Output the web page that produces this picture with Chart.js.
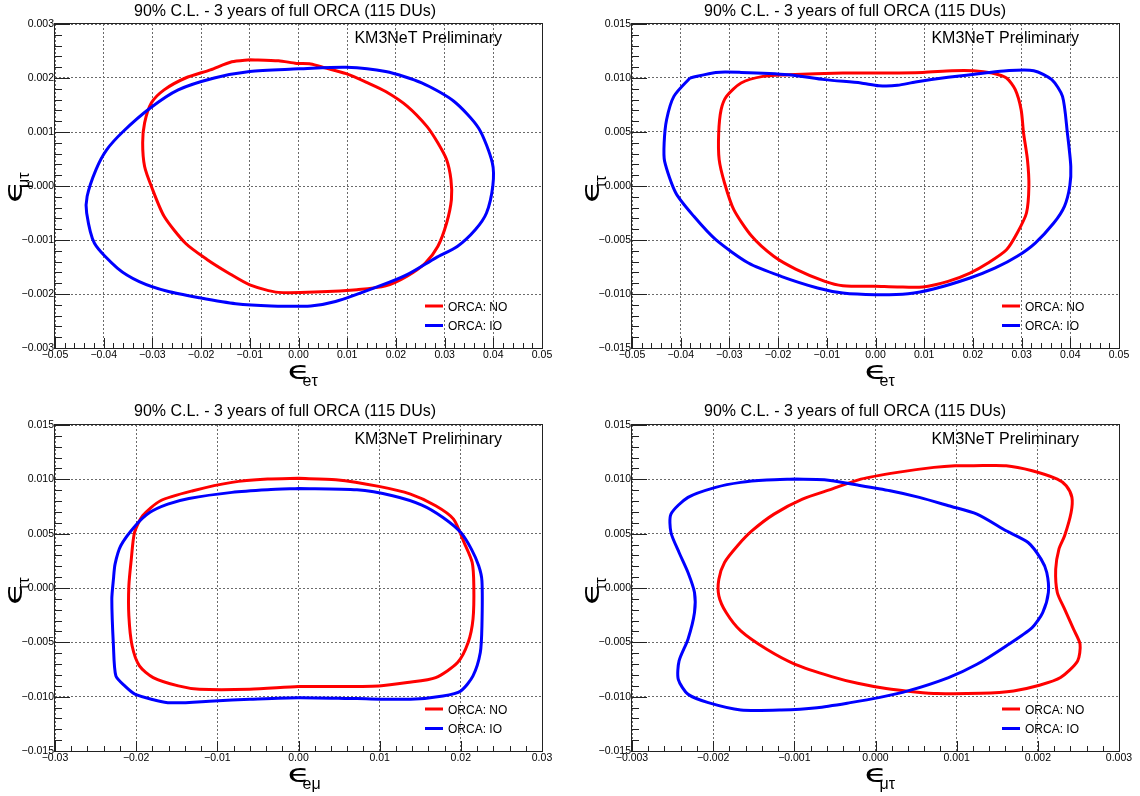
<!DOCTYPE html>
<html>
<head>
<meta charset="utf-8">
<script src="https://cdn.jsdelivr.net/npm/chart.js@4.4.1/dist/chart.umd.min.js"></script>
<style>
  body { margin: 0; background: #fff; }
  #wrap { position: relative; width: 1140px; height: 796px; }
  canvas { position: absolute; }
</style>
</head>
<body>
<div id="wrap">
  <canvas id="c1" width="570" height="400" style="left:0;top:0"></canvas>
  <canvas id="c2" width="570" height="400" style="left:570px;top:0"></canvas>
  <canvas id="c3" width="570" height="396" style="left:0;top:400px"></canvas>
  <canvas id="c4" width="570" height="396" style="left:570px;top:400px"></canvas>
</div>
<script>
const seriesLabels = ['ORCA: NO', 'ORCA: IO'];
const seriesColors = ['#ff0000', '#0000ff'];
const panelTitle = '90% C.L. - 3 years of full ORCA (115 DUs)';
const panelNote = 'KM3NeT Preliminary';

// panel 1: eps_et vs eps_mt
const p1NoX = [-0.0100,-0.0041,-0.0004,0.0025,0.0054,0.0098,0.0142,0.0179,0.0223,0.0264,0.0286,0.0304,0.0313,0.0314,0.0304,0.0286,0.0260,0.0223,0.0179,0.0120,0.0047,-0.0041,-0.0100,-0.0144,-0.0188,-0.0232,-0.0276,-0.0302,-0.0316,-0.0320,-0.0316,-0.0302,-0.0276,-0.0232,-0.0181,-0.0137];
const p1NoY = [0.00234,0.00232,0.00227,0.00226,0.00219,0.00208,0.00191,0.00175,0.00148,0.00110,0.00080,0.00049,0.00012,-0.00025,-0.00069,-0.00112,-0.00143,-0.00167,-0.00185,-0.00192,-0.00196,-0.00197,-0.00183,-0.00161,-0.00136,-0.00106,-0.00056,-0.00001,0.00036,0.00080,0.00117,0.00154,0.00178,0.00200,0.00215,0.00230];
const p1IoX = [0,0.0098,0.0179,0.0253,0.0319,0.0370,0.0398,0.0399,0.0386,0.0363,0.0326,0.0282,0.0223,0.0164,0.0076,0.0025,-0.0056,-0.0129,-0.0203,-0.0269,-0.0327,-0.0372,-0.0419,-0.0435,-0.0434,-0.0416,-0.0394,-0.0360,-0.0305,-0.0247,-0.0173,-0.0100];
const p1IoY = [0.00217,0.00220,0.00212,0.00191,0.00157,0.00107,0.00043,0,-0.00050,-0.00081,-0.00112,-0.00133,-0.00164,-0.00186,-0.00214,-0.00222,-0.00222,-0.00218,-0.00207,-0.00195,-0.00177,-0.00152,-0.00106,-0.00050,-0.00019,0.00030,0.00067,0.00101,0.00144,0.00178,0.00200,0.00212];

// panel 2: eps_et vs eps_tt
const p2NoX = [-0.0179,-0.0067,0,0.0097,0.0157,0.0201,0.0239,0.0269,0.0287,0.0299,0.0304,0.0312,0.0315,0.0310,0.0291,0.0269,0.0231,0.0194,0.0149,0.0097,0.0045,0,-0.0067,-0.0104,-0.0164,-0.0209,-0.0254,-0.0291,-0.0310,-0.0321,-0.0322,-0.0317,-0.0306,-0.0276,-0.0231];
const p2NoY = [0.01031,0.01046,0.01046,0.01052,0.01068,0.01068,0.01046,0.01000,0.00892,0.00707,0.00491,0.00244,0,-0.00250,-0.00435,-0.00590,-0.00713,-0.00806,-0.00883,-0.00935,-0.00935,-0.00929,-0.00923,-0.00883,-0.00769,-0.00651,-0.00466,-0.00219,0.00028,0.00244,0.00491,0.00707,0.00830,0.00954,0.01015];
const p2IoX = [-0.0381,-0.0328,-0.0276,-0.0179,-0.0104,-0.0030,0.0007,0.0045,0.0082,0.0149,0.0224,0.0269,0.0325,0.0362,0.0384,0.0394,0.0401,0.0399,0.0388,0.0366,0.0328,0.0291,0.0246,0.0194,0.0119,0.0067,0,-0.0067,-0.0119,-0.0194,-0.0261,-0.0328,-0.0373,-0.0410,-0.0433,-0.0434,-0.0429,-0.0414];
const p2IoY = [0.01000,0.01052,0.01052,0.01031,0.00985,0.00954,0.00929,0.00932,0.00963,0.01006,0.01046,0.01068,0.01068,0.00985,0.00830,0.00491,0.00182,0,-0.00188,-0.00343,-0.00528,-0.00651,-0.00759,-0.00852,-0.00954,-0.00997,-0.01006,-0.00991,-0.00944,-0.00836,-0.00713,-0.00497,-0.00281,-0.00065,0.00228,0.00398,0.00614,0.00830];

// panel 3: eps_em vs eps_tt
const p3NoX = [0,0.0046,0.0099,0.0138,0.0169,0.0191,0.0204,0.0214,0.0216,0.0215,0.0209,0.0196,0.0169,0.0134,0.0099,0.0028,0,-0.0060,-0.0122,-0.0148,-0.0179,-0.0196,-0.0205,-0.0209,-0.0209,-0.0206,-0.0202,-0.0192,-0.0170,-0.0130,-0.0082,-0.0038];
const p3NoY = [0.01009,0.00996,0.00935,0.00864,0.00757,0.00634,0.00419,0.00235,0.00020,-0.00287,-0.00502,-0.00686,-0.00824,-0.00870,-0.00901,-0.00907,-0.00907,-0.00932,-0.00932,-0.00901,-0.00824,-0.00717,-0.00532,-0.00256,0.00020,0.00266,0.00511,0.00665,0.00803,0.00895,0.00972,0.01002];
const p3IoX = [0,0.0072,0.0116,0.0152,0.0178,0.0200,0.0213,0.0222,0.0226,0.0226,0.0224,0.0215,0.0200,0.0178,0.0138,0.0072,0,-0.0060,-0.0104,-0.0161,-0.0201,-0.0214,-0.0225,-0.0228,-0.0230,-0.0228,-0.0226,-0.0219,-0.0201,-0.0183,-0.0161,-0.0135,-0.0082,-0.0038];
const p3IoY = [0.00916,0.00904,0.00849,0.00763,0.00649,0.00511,0.00358,0.00204,0.00066,-0.00348,-0.00594,-0.00809,-0.00947,-0.00993,-0.01024,-0.01018,-0.01009,-0.01024,-0.01039,-0.01055,-0.00978,-0.00901,-0.00809,-0.00532,-0.00103,0.00081,0.00220,0.00389,0.00573,0.00696,0.00772,0.00824,0.00880,0.00904];

// panel 4: eps_mt vs eps_tt
const p4NoX = [0.00121,0.00161,0.00193,0.00224,0.00235,0.00242,0.00241,0.00233,0.00226,0.00222,0.00224,0.00233,0.00244,0.00252,0.00249,0.00228,0.00202,0.00170,0.00130,0.00076,0.00049,0.00013,-0.00022,-0.00054,-0.00099,-0.00134,-0.00166,-0.00184,-0.00193,-0.00193,-0.00186,-0.00170,-0.00152,-0.00125,-0.00090,-0.00054,-0.00018,0.00027,0.00072,0.00098];
const p4NoY = [0.01125,0.01125,0.01079,0.01002,0.00941,0.00834,0.00695,0.00481,0.00358,0.00173,-0.00041,-0.00195,-0.00379,-0.00517,-0.00671,-0.00824,-0.00895,-0.00947,-0.00969,-0.00972,-0.00956,-0.00925,-0.00877,-0.00815,-0.00702,-0.00564,-0.00395,-0.00226,-0.00072,0.00081,0.00235,0.00389,0.00527,0.00680,0.00818,0.00910,0.01002,0.01064,0.01110,0.01125];
const p4IoX = [-0.00099,-0.00134,-0.00166,-0.00197,-0.00231,-0.00252,-0.00252,-0.00242,-0.00231,-0.00223,-0.00223,-0.00231,-0.00242,-0.00243,-0.00231,-0.00206,-0.00166,-0.00116,-0.00072,-0.00031,0.00004,0.00040,0.00090,0.00125,0.00161,0.00193,0.00206,0.00213,0.00211,0.00204,0.00188,0.00161,0.00125,0.00090,0.00054,0.00018,-0.00022,-0.00063];
const p4IoY = [0.01002,0.00993,0.00972,0.00926,0.00834,0.00680,0.00511,0.00327,0.00143,-0.00041,-0.00226,-0.00471,-0.00671,-0.00840,-0.00978,-0.01055,-0.01122,-0.01122,-0.01101,-0.01055,-0.01009,-0.00947,-0.00824,-0.00702,-0.00533,-0.00364,-0.00226,-0.00041,0.00143,0.00266,0.00419,0.00527,0.00680,0.00757,0.00834,0.00895,0.00947,0.00996];

// axis ranges [min, max, major step, minor step, decimals]
const axisEt = [-0.05, 0.05, 0.01, 0.002, 2];
const axisEm = [-0.03, 0.03, 0.01, 0.002, 2];
const axisMtX = [-0.003, 0.003, 0.001, 0.0002, 3];
const axisMtY = [-0.003, 0.003, 0.001, 0.0002, 3];
const axisTt = [-0.015, 0.015, 0.005, 0.001, 3];

Chart.defaults.font.family = '"Liberation Sans", Arial, sans-serif';
Chart.defaults.color = '#000';

function isMajor(v, step) {
  const r = v / step;
  return Math.abs(r - Math.round(r)) < 1e-6;
}

function fmt(v, dec, negZero) {
  const s = Math.abs(v).toFixed(dec);
  if (v < -1e-12 || (negZero && Math.abs(v) < 1e-12)) return '\u2212' + s;
  return s;
}

function toPoints(xs, ys) {
  const pts = xs.map((x, i) => ({x: x, y: ys[i]}));
  pts.push(pts[0]);
  return pts;
}

function drawSym(ctx, parts, x, y) {
  ctx.save();
  ctx.translate(x, y);
  ctx.scale(1.5, 1);
  ctx.font = '25px "DejaVu Sans"';
  ctx.textAlign = 'left';
  ctx.textBaseline = 'alphabetic';
  ctx.fillText(parts[0], 0, 0);
  ctx.restore();
  ctx.font = '16px "Liberation Sans", Arial, sans-serif';
  ctx.fillText(parts[1], x + 15, y + 7);
}

// ROOT style frame, inward ticks, texts and legend
const rootPad = {
  id: 'rootPad',
  afterDraw(chart, args, o) {
    const {ctx, chartArea: a, scales: {x, y}} = chart;
    ctx.save();
    ctx.strokeStyle = '#222';
    ctx.lineWidth = 1;
    ctx.beginPath();
    x.ticks.forEach(t => {
      const px = Math.round(x.getPixelForValue(t.value)) + 0.5;
      const len = isMajor(t.value, o.xMajor) ? 10 : 5;
      ctx.moveTo(px, a.bottom);
      ctx.lineTo(px, a.bottom - len);
    });
    y.ticks.forEach(t => {
      const py = Math.round(y.getPixelForValue(t.value)) + 0.5;
      const len = isMajor(t.value, o.yMajor) ? 15 : 7;
      ctx.moveTo(a.left, py);
      ctx.lineTo(a.left + len, py);
    });
    ctx.stroke();
    ctx.strokeRect(a.left - 0.5, a.top - 0.5, a.right - a.left + 1, a.bottom - a.top + 1);

    ctx.fillStyle = '#000';
    ctx.font = '16px "Liberation Sans", Arial, sans-serif';
    ctx.textBaseline = 'alphabetic';
    ctx.textAlign = 'center';
    ctx.fillText(panelTitle, chart.width / 2, 16);
    ctx.textAlign = 'right';
    ctx.fillText(panelNote, a.right - 40, a.top + 19);

    // legend
    ctx.textAlign = 'left';
    ctx.font = '12px "Liberation Sans", Arial, sans-serif';
    seriesLabels.forEach((lab, i) => {
      const ly = a.bottom - 42 + i * 19.5;
      ctx.strokeStyle = seriesColors[i];
      ctx.lineWidth = 3;
      ctx.beginPath();
      ctx.moveTo(a.right - 117, ly);
      ctx.lineTo(a.right - 99, ly);
      ctx.stroke();
      ctx.fillText(lab, a.right - 94, ly + 4.5);
    });

    // axis titles
    const cx = (a.left + a.right) / 2;
    drawSym(ctx, o.xTitle, cx - 11, a.bottom + 31);
    ctx.save();
    ctx.translate(a.left - 33, (a.top + a.bottom) / 2 + 17);
    ctx.rotate(-Math.PI / 2);
    drawSym(ctx, o.yTitle, 0, 0);
    ctx.restore();
    ctx.restore();
  }
};

function axis(r, size, negZero) {
  return {
    type: 'linear', min: r[0], max: r[1],
    ticks: {
      stepSize: r[3], autoSkip: false, maxRotation: 0, minRotation: 0,
      padding: 1, font: {size: 10.5},
      callback: v => isMajor(v, r[2]) ? fmt(v, r[4], negZero) : ''
    },
    grid: {
      drawTicks: false, lineWidth: 1,
      color: c => (c.tick && isMajor(c.tick.value, r[2])) ? '#6a6a6a' : 'rgba(0,0,0,0)'
    },
    border: {display: false, dash: [2, 2]},
    afterFit: s => { if (s.isHorizontal()) s.height = size; else s.width = size; }
  };
}

function makePanel(id, p) {
  new Chart(document.getElementById(id), {
    type: 'scatter',
    data: {
      datasets: [
        {label: seriesLabels[1], data: toPoints(p.ioX, p.ioY), borderColor: seriesColors[1], showLine: true, order: 0},
        {label: seriesLabels[0], data: toPoints(p.noX, p.noY), borderColor: seriesColors[0], showLine: true, order: 1}
      ]
    },
    options: {
      responsive: false,
      animation: false,
      layout: {padding: {top: p.top, right: p.right, left: 0, bottom: 0}},
      elements: {
        point: {radius: 0, hoverRadius: 0},
        line: {borderWidth: 3, tension: 0.25, fill: false}
      },
      scales: {
        x: axis(p.xAxis, p.xh, false),
        y: axis(p.yAxis, p.yw, p.negZeroY)
      },
      plugins: {
        legend: {display: false},
        tooltip: {enabled: false},
        rootPad: {xMajor: p.xAxis[2], yMajor: p.yAxis[2], xTitle: p.xTitle, yTitle: p.yTitle}
      }
    },
    plugins: [rootPad]
  });
}

makePanel('c1', {noX: p1NoX, noY: p1NoY, ioX: p1IoX, ioY: p1IoY, xAxis: axisEt, yAxis: axisMtY,
  top: 24, right: 28, yw: 55, xh: 52, negZeroY: true, xTitle: ['\u03f5', 'e\u03c4'], yTitle: ['\u03f5', '\u03bc\u03c4']});
makePanel('c2', {noX: p2NoX, noY: p2NoY, ioX: p2IoX, ioY: p2IoY, xAxis: axisEt, yAxis: axisTt,
  top: 24, right: 21, yw: 62, xh: 52, negZeroY: false, xTitle: ['\u03f5', 'e\u03c4'], yTitle: ['\u03f5', '\u03c4\u03c4']});
makePanel('c3', {noX: p3NoX, noY: p3NoY, ioX: p3IoX, ioY: p3IoY, xAxis: axisEm, yAxis: axisTt,
  top: 25, right: 28, yw: 55, xh: 45, negZeroY: false, xTitle: ['\u03f5', 'e\u03bc'], yTitle: ['\u03f5', '\u03c4\u03c4']});
makePanel('c4', {noX: p4NoX, noY: p4NoY, ioX: p4IoX, ioY: p4IoY, xAxis: axisMtX, yAxis: axisTt,
  top: 25, right: 21, yw: 62, xh: 45, negZeroY: false, xTitle: ['\u03f5', '\u03bc\u03c4'], yTitle: ['\u03f5', '\u03c4\u03c4']});
</script>
</body>
</html>
